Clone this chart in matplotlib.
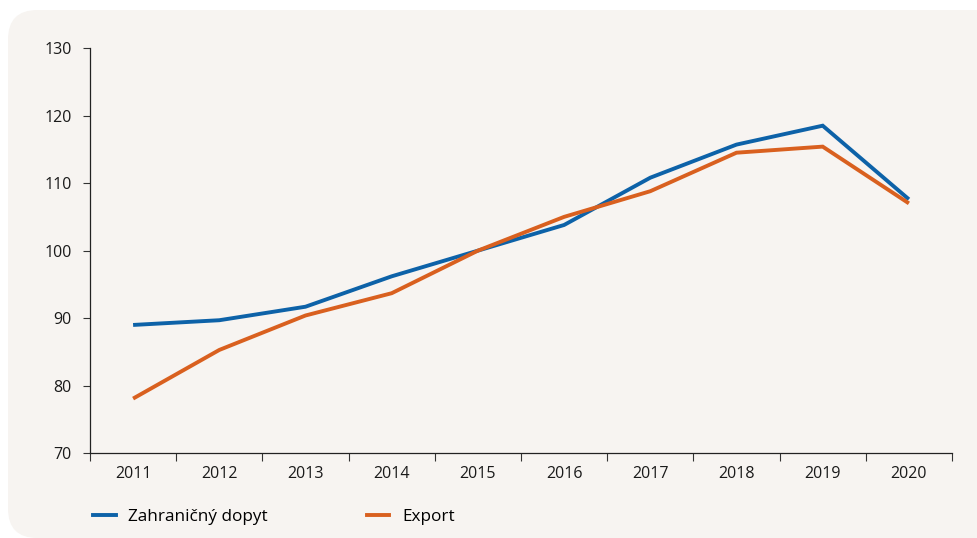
import matplotlib
matplotlib.use("Agg")
import matplotlib.pyplot as plt
from matplotlib.patches import FancyBboxPatch
from matplotlib.lines import Line2D

years = ["2011", "2012", "2013", "2014", "2015", "2016", "2017", "2018", "2019", "2020"]
zahranicny_dopyt = [89.0, 89.7, 91.7, 96.2, 100.0, 103.8, 110.8, 115.7, 118.5, 107.6]
export = [78.1, 85.3, 90.4, 93.7, 100.0, 105.0, 108.8, 114.5, 115.4, 107.0]
y_ticks = [70, 80, 90, 100, 110, 120, 130]

blue = "#0d62a8"
orange = "#d9601f"
bg = "#f7f4f1"
fs = 11.5
lfs = 12.3

plt.rcParams["font.family"] = ["Open Sans", "DejaVu Sans"]

fig = plt.figure(figsize=(9.78, 5.38), dpi=100)
fig.patch.set_facecolor("white")
panel = FancyBboxPatch((8 / 978, 0.0), (978 - 8) / 978 + 0.05, (538 - 10) / 538,
                       boxstyle="round,pad=0,rounding_size=0.03",
                       transform=fig.transFigure, facecolor=bg, edgecolor="none",
                       mutation_aspect=978 / 538, zorder=-10)
fig.patches.append(panel)

ax = fig.add_axes([90 / 978, 1 - 453.3 / 538, (952 - 90) / 978, (453.3 - 48) / 538])
ax.set_facecolor("none")
ax.set_zorder(5)

x = list(range(len(years)))
ax.plot(x, zahranicny_dopyt, color=blue, lw=2.8, solid_capstyle="butt", solid_joinstyle="miter")
ax.plot(x, export, color=orange, lw=2.8, solid_capstyle="butt", solid_joinstyle="miter")

ax.set_xlim(-0.5, len(years) - 0.5)
ax.set_ylim(70, 130)
ax.set_yticks(y_ticks)
ax.set_yticklabels([str(v) for v in y_ticks], fontsize=fs, color="#1a1a1a")
ax.set_xticks(x)
ax.set_xticklabels(years, fontsize=fs, color="#1a1a1a")
ax.tick_params(axis="x", length=0, pad=9)
ax.set_xticks([i - 0.5 for i in range(len(years) + 1)], minor=True)
ax.tick_params(axis="x", which="minor", length=6, width=0.8, color="#333333")
ax.tick_params(axis="y", length=5, width=0.8, color="#333333", pad=8)

for s in ["top", "right"]:
    ax.spines[s].set_visible(False)
for s in ["left", "bottom"]:
    ax.spines[s].set_linewidth(0.9)
    ax.spines[s].set_color("#222222")

handles = [Line2D([0], [0], color=blue, lw=2.8), Line2D([0], [0], color=orange, lw=2.8)]
fig.legend(handles, ["Zahraničný dopyt", "Export"], loc="center left",
           bbox_to_anchor=(81.5 / 978, 1 - 517 / 538), ncol=2, frameon=False,
           fontsize=lfs, handlelength=1.3, handletextpad=0.75, columnspacing=5.8,
           borderaxespad=0.3)

fig.savefig("out.png", dpi=100, facecolor="white")
